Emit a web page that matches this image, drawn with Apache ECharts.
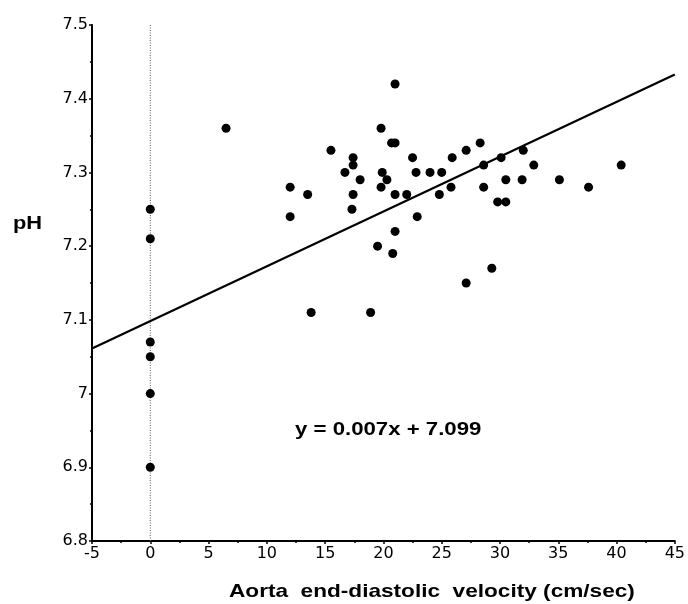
<!DOCTYPE html>
<html>
<head>
<meta charset="utf-8">
<script src="https://cdn.jsdelivr.net/npm/echarts@6/dist/echarts.min.js"></script>
<style>
  html, body { margin: 0; padding: 0; background: #fff; }
  #chart { width: 688px; height: 604px; }
</style>
</head>
<body>
<div id="chart"></div>
<script>
// Aorta end-diastolic velocity (cm/sec)
const velocity = [
  0, 0, 0, 0, 0, 0,
  6.5, 12.0, 12.0, 13.5, 13.8, 15.5, 16.7, 17.4, 17.4, 18.0, 17.4, 17.3,
  19.8, 19.9, 19.8, 20.3, 19.5, 20.7, 21.0, 21.0, 21.0, 21.0, 20.8, 18.9,
  22.0, 22.5, 22.8, 22.9, 24.0, 25.0, 24.8, 25.8, 25.9, 27.1, 27.1, 28.3,
  28.6, 28.6, 29.3, 30.1, 29.8, 30.5, 30.5, 31.9, 32.0, 32.9, 35.1, 37.6, 40.4
];
// pH
const ph = [
  7.25, 7.21, 7.07, 7.05, 7.00, 6.90,
  7.36, 7.28, 7.24, 7.27, 7.11, 7.33, 7.30, 7.32, 7.31, 7.29, 7.27, 7.25,
  7.36, 7.30, 7.28, 7.29, 7.20, 7.34, 7.34, 7.42, 7.27, 7.22, 7.19, 7.11,
  7.27, 7.32, 7.30, 7.24, 7.30, 7.30, 7.27, 7.28, 7.32, 7.33, 7.15, 7.34,
  7.31, 7.28, 7.17, 7.32, 7.26, 7.26, 7.29, 7.29, 7.33, 7.31, 7.29, 7.28, 7.31
];
// regression line endpoints as drawn
const fitX = [-5, 45];
const fitY = [7.061, 7.433];
const equationText = 'y = 0.007x + 7.099';
const xTitle = 'Aorta  end-diastolic  velocity (cm/sec)';
const yTitle = 'pH';

const points = velocity.map((v, i) => [v, ph[i]]);
const fitLine = fitX.map((v, i) => [v, fitY[i]]);

const chart = echarts.init(document.getElementById('chart'));
const font = '"Liberation Sans", Arial, Helvetica, sans-serif';
const tickFont = '"DejaVu Sans", "Liberation Sans", sans-serif';
chart.setOption({
  animation: false,
  backgroundColor: '#fff',
  grid: { left: 92, right: 11, top: 25, bottom: 63, containLabel: false },
  xAxis: {
    type: 'value', min: -5, max: 45, interval: 5,
    axisLine: { show: true, onZero: false, lineStyle: { color: '#000', width: 2 } },
    axisTick: { show: true, length: 3, lineStyle: { color: '#000', width: 1.5 } },
    minorTick: { show: true, splitNumber: 2, length: 2, lineStyle: { color: '#000', width: 1.5 } },
    splitLine: { show: false },
    axisLabel: { color: '#000', fontFamily: tickFont, fontSize: 16, margin: 5 }
  },
  yAxis: {
    type: 'value', min: 6.8, max: 7.5, interval: 0.1,
    axisLine: { show: true, onZero: false, lineStyle: { color: '#000', width: 2 } },
    axisTick: { show: true, length: 3, lineStyle: { color: '#000', width: 1.5 } },
    minorTick: { show: true, splitNumber: 2, length: 2, lineStyle: { color: '#000', width: 1.5 } },
    splitLine: { show: false },
    axisLabel: {
      color: '#000', fontFamily: tickFont, fontSize: 16, margin: 4,
      formatter: v => String(parseFloat(v.toFixed(1)))
    }
  },
  series: [
    {
      type: 'line', data: [[0, 6.8], [0, 7.5]], symbol: 'none', silent: true,
      lineStyle: { color: '#555', width: 1, type: [1, 1.5] }, z: 1
    },
    {
      type: 'line', data: fitLine, symbol: 'none', silent: true,
      lineStyle: { color: '#000', width: 2.2 }, z: 2
    },
    {
      type: 'scatter', data: points, symbol: 'circle', symbolSize: 9,
      itemStyle: { color: '#000', opacity: 1 }, z: 3
    }
  ],
  graphic: [
    { type: 'text', x: 295, y: 420, scaleX: 1.2,
      style: { text: equationText, fill: '#000', font: 'bold 18.5px ' + font, textVerticalAlign: 'top' } },
    { type: 'text', x: 229, y: 582, scaleX: 1.19,
      style: { text: xTitle, fill: '#000', font: 'bold 19px ' + font, textVerticalAlign: 'top' } },
    { type: 'text', x: 13, y: 214, scaleX: 1.15,
      style: { text: yTitle, fill: '#000', font: 'bold 19px ' + font, textVerticalAlign: 'top' } }
  ]
});
</script>
</body>
</html>
